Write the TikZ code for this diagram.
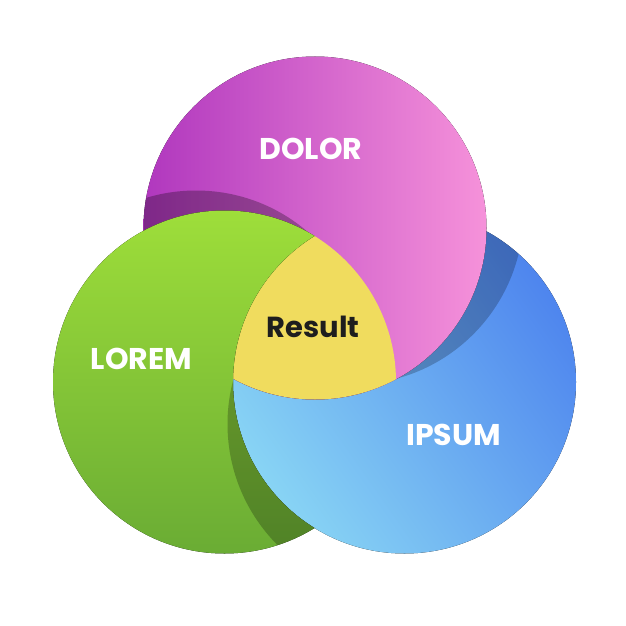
\documentclass[tikz,border=0pt]{standalone}
\usepackage{fontspec}
\setmainfont{Poppins}
\definecolor{pinkL}{RGB}{176,55,190}
\definecolor{pinkR}{RGB}{246,146,218}
\definecolor{greenT}{RGB}{158,222,58}
\definecolor{greenB}{RGB}{106,172,52}
\definecolor{blueL}{RGB}{136,212,244}
\definecolor{blueD}{RGB}{78,133,238}
\definecolor{yellowC}{RGB}{240,220,94}
\definecolor{textD}{RGB}{30,30,30}
\tikzset{
  lbl/.style={font=\bfseries\fontsize{30}{30}\selectfont, text=white, inner sep=0pt},
  reslbl/.style={font=\bfseries\fontsize{29}{29}\selectfont, text=textD, inner sep=0pt},
}
\begin{document}
\begin{tikzpicture}[x=1pt,y=-1pt]
\fill[white] (0,0) rectangle (626,626);
\useasboundingbox (0,0) rectangle (626,626);
\def\R{171.5pt}
\def\Rb{173pt}
% blue circle
\fill[bottom color=blueL, top color=blueD, shading angle=-55] (404.5,382) circle[radius=\R];
% pink shadow on blue
\begin{scope}
  \clip (404.5,382) circle[radius=\R];
  \fill[black, opacity=0.22] (352,213) circle[radius=\R];
\end{scope}
% pink circle
\fill[left color=pinkL, right color=pinkR] (315,228) circle[radius=\R];
% green shadow on pink
\begin{scope}
  \clip (315,228) circle[radius=\R];
  \fill[black, opacity=0.28] (196,362) circle[radius=\R];
\end{scope}
% yellow centre (slightly extended under the green)
\begin{scope}
  \clip (224.5,382) circle[radius=\R];
  \clip (404.5,382) circle[radius=\Rb];
  \fill[yellowC] (315,228) circle[radius=\R];
\end{scope}
% green circle, only outside the blue one
\begin{scope}[even odd rule]
  \clip (-20,-20) rectangle (646,646) (404.5,382) circle[radius=\R];
  \fill[top color=greenT, bottom color=greenB] (224.5,382) circle[radius=\R];
  \clip (224.5,382) circle[radius=\R];
  \fill[black, opacity=0.24] (399,424) circle[radius=\R];
\end{scope}
\node[lbl] (dolor) at (311,149) {DOLOR};
\node[lbl] (lorem) at (141.5,358.5) {LOREM};
\node[lbl] (ipsum) at (453.5,434.5) {IPSUM};
\node[reslbl] (result) at (313,327) {Result};
\end{tikzpicture}
\end{document}
